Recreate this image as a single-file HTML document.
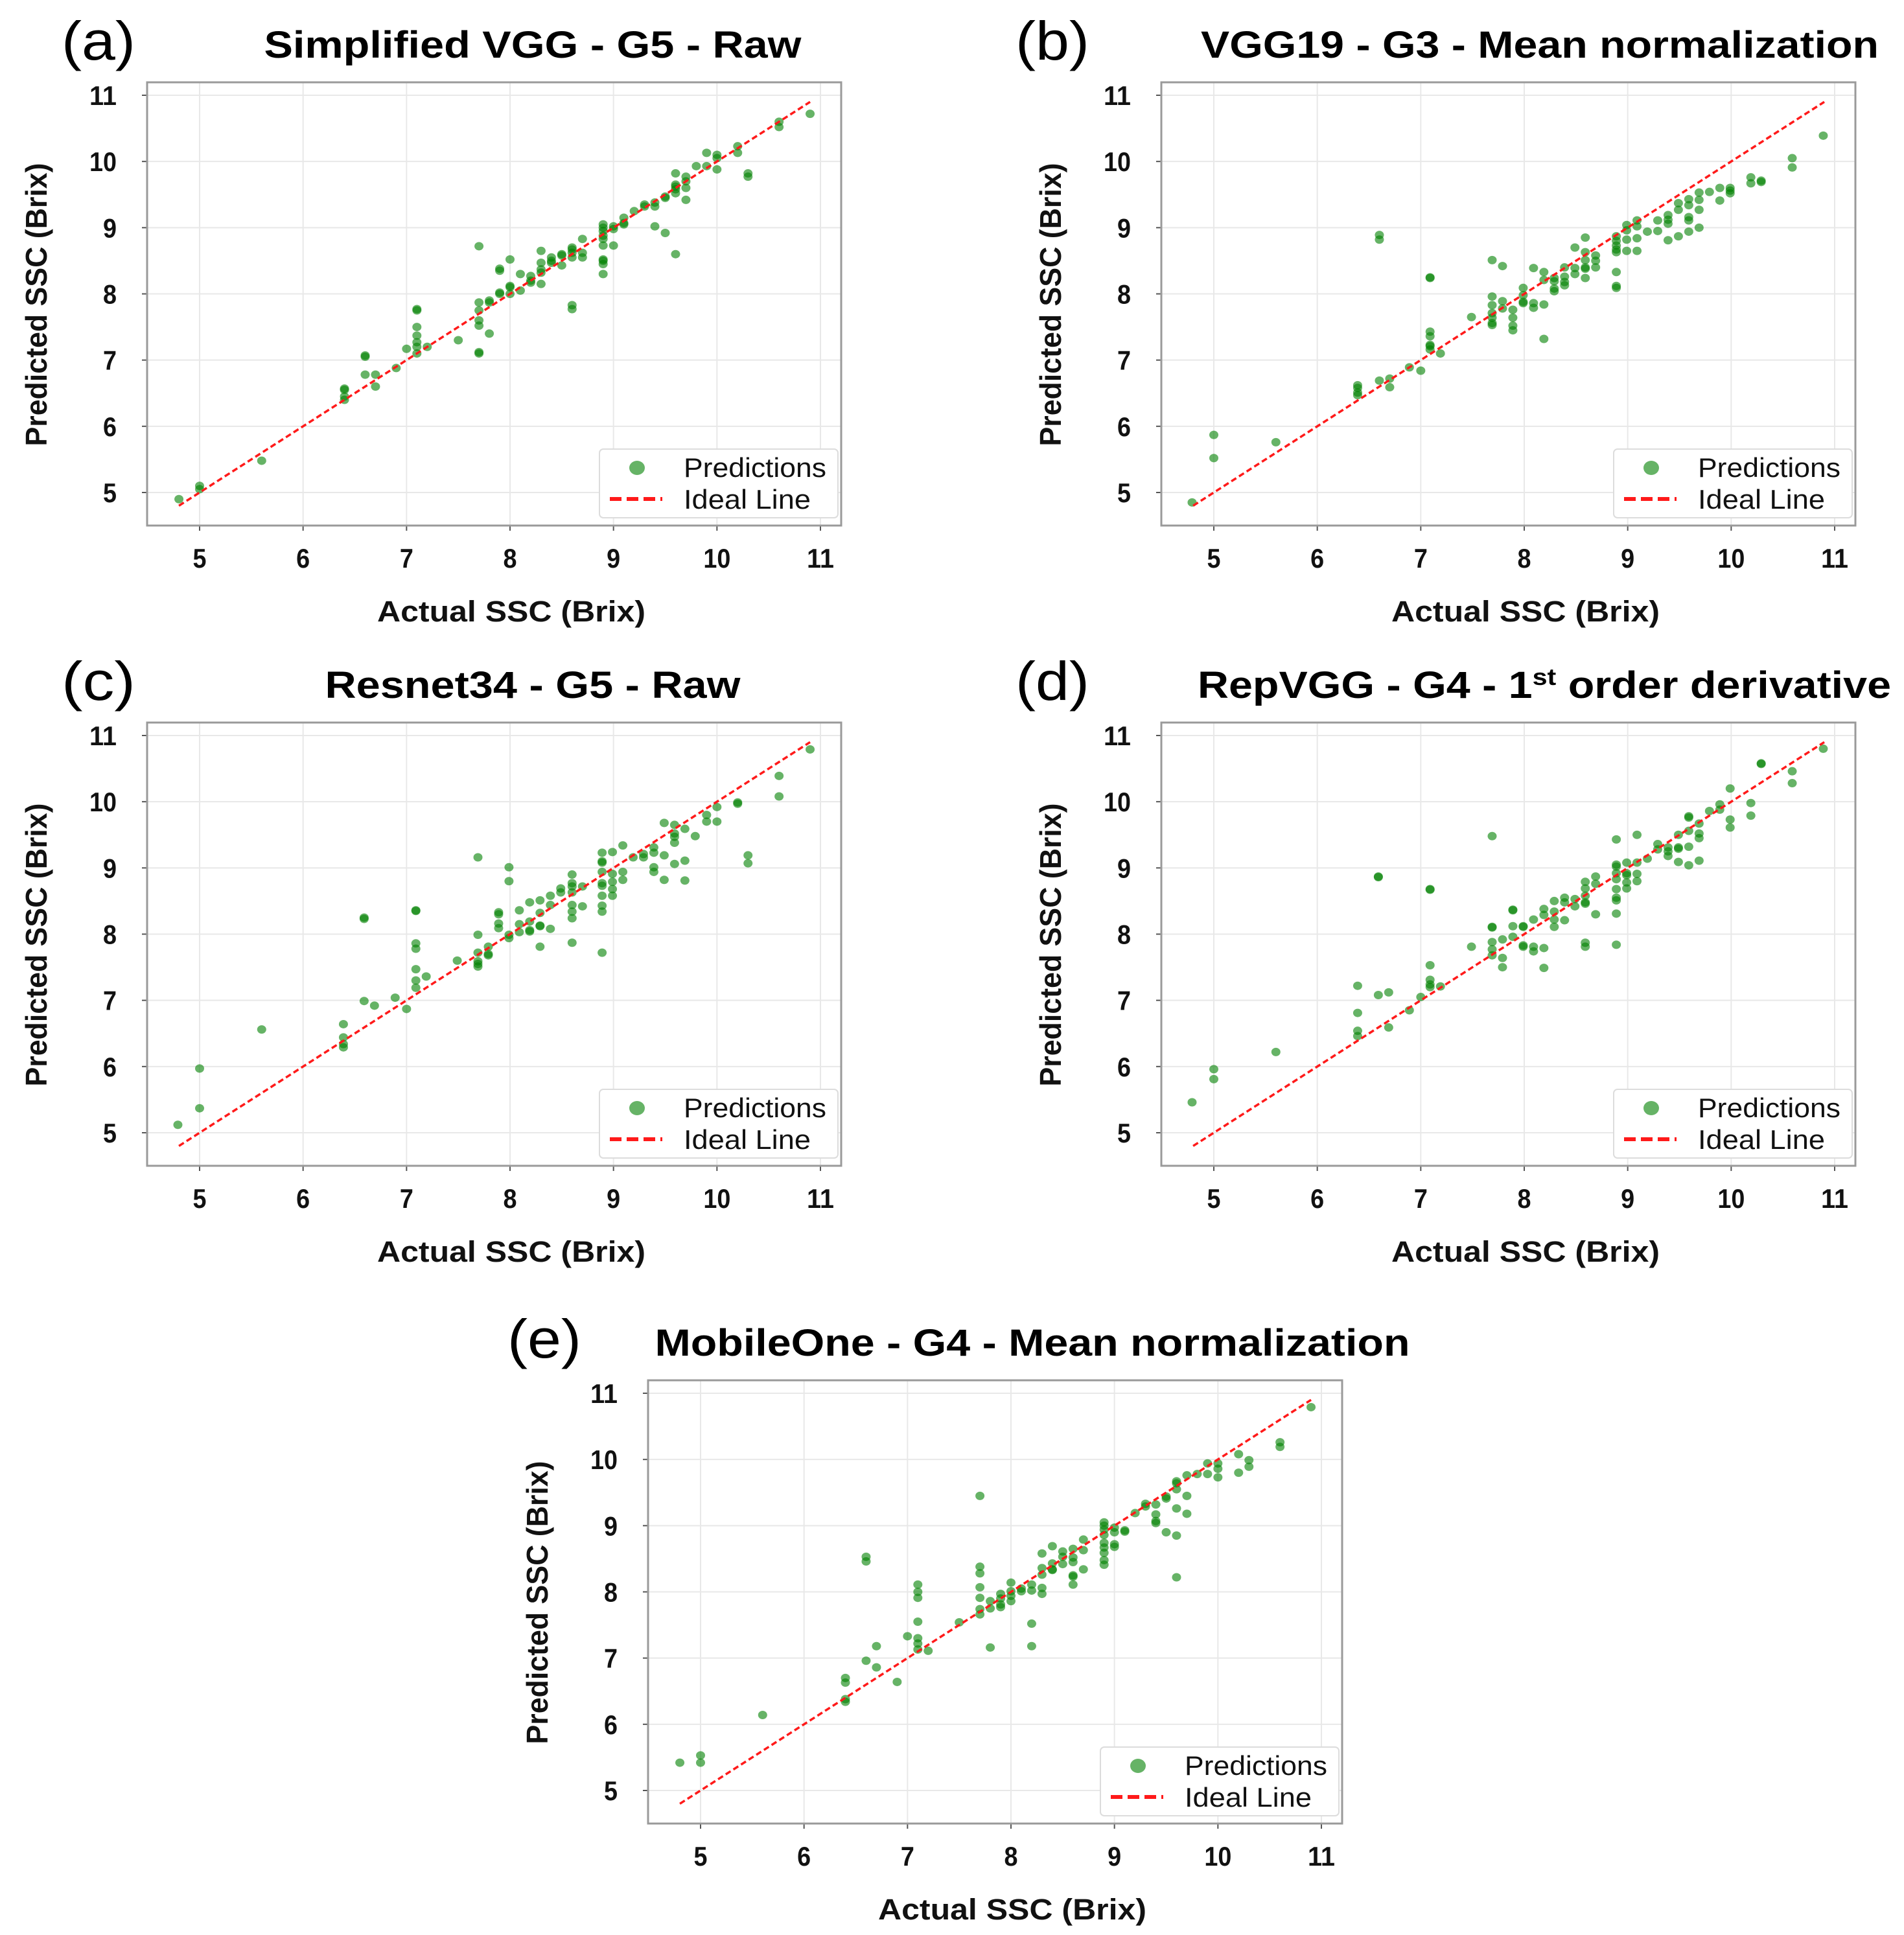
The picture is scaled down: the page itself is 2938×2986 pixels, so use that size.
<!DOCTYPE html>
<html><head><meta charset="utf-8"><style>
html,body{margin:0;padding:0;background:#fff;}
svg{display:block;}
</style></head><body>
<svg id="fig" xmlns="http://www.w3.org/2000/svg" width="2938" height="2986" viewBox="0 0 2938 2986" font-family="Liberation Sans, Arial, sans-serif"></svg>
<script>
// ---- data (actual SSC, predicted SSC) ----
const tickValues = [5, 6, 7, 8, 9, 10, 11];
const tickLabels = ["5", "6", "7", "8", "9", "10", "11"];
const idealRange = [4.8, 10.9];

const aX = [4.8,5,5,5.6,6.4,6.4,6.4,6.4,6.6,6.6,6.6,6.7,6.7,6.9,7.0,7.1,7.1,7.1,7.1,7.1,7.1,7.1,7.2,7.5,7.7,7.7,7.7,7.7,7.7,7.7,7.7,7.8,7.8,7.8,7.9,7.9,7.9,7.9,8.0,8.0,8.0,8.0,8.1,8.1,8.2,8.2,8.2,8.3,8.3,8.3,8.3,8.3,8.4,8.4,8.4,8.5,8.5,8.5,8.6,8.6,8.6,8.6,8.6,8.6,8.7,8.7,8.7,8.9,8.9,8.9,8.9,8.9,8.9,8.9,8.9,8.9,8.9,9.0,9.0,9.0,9.1,9.1,9.1,9.2,9.3,9.3,9.4,9.4,9.4,9.5,9.5,9.5,9.6,9.6,9.6,9.6,9.6,9.6,9.7,9.7,9.7,9.7,9.8,9.9,9.9,10.0,10.0,10.0,10.2,10.2,10.3,10.3,10.6,10.6,10.9];
const aY = [4.9,5.05,5.1,5.48,6.4,6.45,6.55,6.57,7.05,7.07,6.78,6.78,6.6,6.88,7.17,7.1,7.2,7.27,7.37,7.5,7.75,7.77,7.2,7.3,7.1,7.12,7.52,7.6,7.75,7.87,8.72,7.4,7.87,7.9,8.0,8.02,8.35,8.38,8.0,8.1,8.12,8.52,8.05,8.3,8.17,8.2,8.27,8.15,8.32,8.37,8.47,8.65,8.47,8.5,8.55,8.43,8.58,8.6,7.77,7.83,8.55,8.62,8.67,8.7,8.55,8.62,8.83,8.3,8.45,8.5,8.52,8.73,8.83,8.88,8.95,9.0,9.05,8.73,8.98,9.02,9.05,9.07,9.15,9.25,9.32,9.35,9.02,9.32,9.38,8.92,9.45,9.47,8.6,9.52,9.58,9.62,9.65,9.82,9.42,9.6,9.7,9.77,9.93,9.93,10.13,9.88,10.05,10.1,10.13,10.23,9.77,9.82,10.52,10.6,10.72];

const bX = [4.79,5,5,5.6,6.39,6.39,6.39,6.39,6.6,6.6,6.6,6.7,6.7,6.89,7.0,7.09,7.09,7.09,7.09,7.09,7.09,7.09,7.19,7.49,7.69,7.69,7.69,7.69,7.69,7.69,7.69,7.79,7.79,7.79,7.89,7.89,7.89,7.89,7.99,7.99,7.99,7.99,8.09,8.09,8.09,8.19,8.19,8.19,8.19,8.29,8.29,8.29,8.29,8.39,8.39,8.39,8.39,8.49,8.49,8.49,8.59,8.59,8.59,8.59,8.59,8.59,8.69,8.69,8.69,8.89,8.89,8.89,8.89,8.89,8.89,8.89,8.89,8.99,8.99,8.99,8.99,9.09,9.09,9.09,9.09,9.19,9.29,9.29,9.39,9.39,9.39,9.39,9.49,9.49,9.49,9.59,9.59,9.59,9.59,9.59,9.69,9.69,9.69,9.69,9.79,9.89,9.89,9.99,9.99,9.99,10.19,10.19,10.29,10.29,10.59,10.59,10.89];
const bY = [4.85,5.87,5.52,5.76,6.62,6.58,6.51,6.47,8.89,8.82,6.69,6.72,6.59,6.89,6.84,8.24,8.25,7.43,7.36,7.23,7.21,7.16,7.1,7.65,8.51,7.96,7.83,7.71,7.64,7.56,7.53,8.42,7.89,7.78,7.76,7.64,7.52,7.45,8.09,7.98,7.88,7.86,8.39,7.86,7.79,8.33,8.21,7.84,7.32,8.24,8.19,8.08,8.04,8.4,8.26,8.18,8.13,8.7,8.39,8.3,8.85,8.63,8.51,8.4,8.38,8.24,8.58,8.5,8.4,8.87,8.8,8.73,8.67,8.63,8.33,8.12,8.09,9.04,8.96,8.82,8.65,9.11,9.02,8.84,8.65,8.94,9.11,8.95,9.19,9.12,9.06,8.81,9.37,9.27,8.87,9.43,9.34,9.16,9.11,8.94,9.53,9.42,9.27,9.0,9.54,9.6,9.41,9.6,9.56,9.52,9.76,9.67,9.71,9.69,10.05,9.91,10.39];

const cX = [4.79,5,5,5.6,6.39,6.39,6.39,6.39,6.59,6.59,6.59,6.69,6.89,7.0,7.09,7.09,7.09,7.09,7.09,7.09,7.09,7.19,7.49,7.69,7.69,7.69,7.69,7.69,7.69,7.79,7.79,7.79,7.89,7.89,7.89,7.89,7.99,7.99,7.99,7.99,8.09,8.09,8.09,8.19,8.19,8.19,8.19,8.29,8.29,8.29,8.29,8.29,8.39,8.39,8.39,8.49,8.49,8.6,8.6,8.6,8.6,8.6,8.6,8.6,8.6,8.7,8.7,8.89,8.89,8.89,8.89,8.89,8.89,8.89,8.89,8.89,8.89,8.99,8.99,8.99,8.99,8.99,9.09,9.09,9.09,9.19,9.29,9.29,9.39,9.39,9.39,9.39,9.49,9.49,9.49,9.59,9.59,9.59,9.59,9.59,9.69,9.69,9.69,9.79,9.9,9.9,10.0,10.0,10.2,10.2,10.3,10.3,10.6,10.6,10.9];
const cY = [5.12,5.97,5.37,6.56,6.64,6.44,6.34,6.29,8.25,8.23,6.99,6.92,7.04,6.87,8.36,8.35,7.86,7.78,7.47,7.3,7.19,7.36,7.6,9.16,7.99,7.72,7.59,7.55,7.51,7.81,7.7,7.68,8.33,8.3,8.16,8.09,9.01,8.8,7.99,7.94,8.36,8.15,8.03,8.48,8.19,8.06,8.04,8.51,8.32,8.13,8.12,7.81,8.58,8.44,8.08,8.69,8.63,8.9,8.77,8.72,8.63,8.44,8.34,8.24,7.87,8.72,8.42,9.23,9.1,9.08,8.94,8.77,8.73,8.58,8.43,8.34,7.72,9.24,8.91,8.79,8.68,8.58,9.34,8.94,8.82,9.16,9.21,9.16,9.31,9.23,9.01,8.94,9.68,9.19,8.82,9.65,9.52,9.47,9.38,9.06,9.59,9.11,8.81,9.48,9.8,9.7,9.92,9.7,9.99,9.97,9.19,9.07,10.39,10.08,10.79];

const dX = [4.79,5,5,5.6,6.39,6.39,6.39,6.39,6.59,6.59,6.59,6.69,6.69,6.89,7.0,7.09,7.09,7.09,7.09,7.09,7.09,7.19,7.49,7.69,7.69,7.69,7.69,7.69,7.69,7.79,7.79,7.79,7.89,7.89,7.89,7.89,7.99,7.99,7.99,7.99,8.09,8.09,8.09,8.19,8.19,8.19,8.19,8.29,8.29,8.29,8.29,8.39,8.39,8.39,8.49,8.49,8.59,8.59,8.59,8.59,8.59,8.59,8.59,8.69,8.69,8.69,8.89,8.89,8.89,8.89,8.89,8.89,8.89,8.89,8.89,8.89,8.99,8.99,8.99,8.99,8.99,9.09,9.09,9.09,9.09,9.19,9.29,9.29,9.39,9.39,9.39,9.49,9.49,9.49,9.49,9.59,9.59,9.59,9.59,9.59,9.69,9.69,9.69,9.69,9.79,9.89,9.89,9.99,9.99,9.99,10.19,10.19,10.29,10.29,10.59,10.59,10.89];
const dY = [5.46,5.96,5.81,6.22,7.22,6.81,6.54,6.46,8.87,8.86,7.08,7.12,6.59,6.85,7.05,8.68,8.67,7.53,7.31,7.24,7.2,7.21,7.81,9.48,8.11,8.1,7.88,7.77,7.68,7.92,7.64,7.5,8.37,8.36,8.12,7.96,8.12,8.11,7.83,7.81,8.22,7.81,7.74,8.38,8.29,7.79,7.49,8.5,8.34,8.22,8.11,8.55,8.48,8.21,8.53,8.42,8.79,8.69,8.58,8.48,8.46,7.87,7.81,8.87,8.76,8.3,9.43,9.05,9.02,8.92,8.83,8.68,8.55,8.51,8.31,7.84,9.08,8.92,8.89,8.78,8.69,9.5,9.08,8.91,8.8,9.14,9.36,9.28,9.31,9.25,9.18,9.5,9.31,9.29,9.09,9.78,9.76,9.56,9.32,9.04,9.67,9.52,9.45,9.11,9.86,9.96,9.88,10.2,9.73,9.61,9.98,9.79,10.58,10.57,10.46,10.28,10.8];

const eX = [4.8,5,5,5.6,6.4,6.4,6.4,6.4,6.6,6.6,6.6,6.7,6.7,6.9,7.0,7.1,7.1,7.1,7.1,7.1,7.1,7.1,7.2,7.5,7.7,7.7,7.7,7.7,7.7,7.7,7.7,7.8,7.8,7.8,7.9,7.9,7.9,7.9,8.0,8.0,8.0,8.0,8.1,8.1,8.2,8.2,8.2,8.2,8.3,8.3,8.3,8.3,8.3,8.4,8.4,8.4,8.4,8.5,8.5,8.5,8.6,8.6,8.6,8.6,8.6,8.6,8.7,8.7,8.7,8.9,8.9,8.9,8.9,8.9,8.9,8.9,8.9,8.9,9.0,9.0,9.0,9.0,9.1,9.1,9.2,9.3,9.3,9.4,9.4,9.4,9.4,9.5,9.5,9.5,9.6,9.6,9.6,9.6,9.6,9.6,9.7,9.7,9.7,9.8,9.9,9.9,10.0,10.0,10.0,10.2,10.2,10.3,10.3,10.6,10.6,10.9];
const eY = [5.42,5.53,5.42,6.14,6.7,6.63,6.38,6.34,8.53,8.46,6.96,7.18,6.86,6.64,7.33,8.11,8.0,7.91,7.55,7.3,7.22,7.13,7.11,7.54,9.45,8.38,8.28,8.07,7.91,7.74,7.66,7.86,7.75,7.16,7.97,7.9,7.81,7.77,8.14,8.01,7.94,7.86,8.05,8.01,8.11,8.02,7.52,7.18,8.58,8.36,8.26,8.06,7.97,8.69,8.43,8.34,8.33,8.61,8.53,8.42,8.65,8.52,8.45,8.25,8.23,8.11,8.79,8.63,8.34,9.05,9.0,8.94,8.86,8.74,8.67,8.59,8.48,8.41,8.97,8.9,8.72,8.68,8.93,8.91,9.19,9.33,9.29,9.32,9.17,9.07,9.04,9.44,9.41,8.9,9.67,9.64,9.55,9.26,8.85,8.22,9.76,9.45,9.18,9.78,9.94,9.78,9.94,9.86,9.73,10.08,9.8,9.99,9.89,10.26,10.19,10.79];

const panelX = [aX, bX, cX, dX, eX];
const panelY = [aY, bY, cY, dY, eY];
const panelTitles = ["Simplified VGG - G5 - Raw", "VGG19 - G3 - Mean normalization", "Resnet34 - G5 - Raw", "RepVGG - G4 - 1|st| order derivative", "MobileOne - G4 - Mean normalization"];
const panelLetters = ["(a)", "(b)", "(c)", "(d)", "(e)"];

// ---- layout ----
const NS = "http://www.w3.org/2000/svg";
const svg = document.getElementById("fig");
const layout = [
  {dx:0, dy:0, tcx:822, tw:829, lx:95},
  {dx:1565, dy:0, tcx:2376, tw:1046, lx:1567},
  {dx:0, dy:988, tcx:822, tw:641, lx:95},
  {dx:1565, dy:988, tcx:2383, tw:1070, lx:1567},
  {dx:773, dy:2003, tcx:1593, tw:1165, lx:783}
];
function mk(tag, attrs, parent){
  const el = document.createElementNS(NS, tag);
  for (const k in attrs) el.setAttribute(k, attrs[k]);
  (parent||svg).appendChild(el);
  return el;
}
layout.forEach((L, p) => {
  const g = mk("g", {});
  
  
  const left = 227 + L.dx, right = 1298 + L.dx, top = 127 + L.dy, bottom = 811 + L.dy;
  const sx = v => 308 + L.dx + (v - 5) * (1266 - 308) / 6;
  const sy = v => 760 + L.dy - (v - 5) * (760 - 147) / 6;
  mk("rect", {x:left, y:top, width:right-left, height:bottom-top, fill:"#fff"}, g);
  tickValues.forEach((t, i) => {
    const gx = mk("line", {x1:sx(t), x2:sx(t), y1:top, y2:bottom, stroke:"#e8e8e8", "stroke-width":2}, g);
    
    
    const gy = mk("line", {x1:left, x2:right, y1:sy(t), y2:sy(t), stroke:"#e8e8e8", "stroke-width":2}, g);
    
    
    mk("line", {x1:sx(t), x2:sx(t), y1:bottom, y2:bottom+8, stroke:"#555", "stroke-width":2}, g);
    mk("line", {x1:left-8, x2:left, y1:sy(t), y2:sy(t), stroke:"#555", "stroke-width":2}, g);
    const xl = mk("text", {x:sx(t), y:bottom+65, "font-size":42, "font-weight":"bold", "text-anchor":"middle", fill:"#111", textLength: tickLabels[i].length*21, lengthAdjust:"spacingAndGlyphs"}, g);
    xl.textContent = tickLabels[i];
    
    
    const yl = mk("text", {x:left-47, y:sy(t)+15, "font-size":42, "font-weight":"bold", "text-anchor":"end", fill:"#111", textLength: tickLabels[i].length*21, lengthAdjust:"spacingAndGlyphs"}, g);
    yl.textContent = tickLabels[i];
    
    
  });
  const xs = panelX[p], ys = panelY[p];
  for (let i = 0; i < xs.length; i++) {
    const c = mk("ellipse", {cx:sx(xs[i]), cy:sy(ys[i]), rx:7, ry:6.5, fill:"rgba(0,128,0,0.6)"}, g);
    
    
  }
  const il = mk("line", {x1:sx(idealRange[0]), y1:sy(idealRange[0]), x2:sx(idealRange[1]), y2:sy(idealRange[1]), stroke:"#ff1a1a", "stroke-width":3.5, "stroke-dasharray":"9,5"}, g);
  
  
  const fr = mk("rect", {x:left, y:top, width:right-left, height:bottom-top, fill:"none", stroke:"#9a9a9a", "stroke-width":3}, g);
  
  
  const lg = mk("g", {}, g);
  
  
  mk("rect", {x:left+698, y:top+566, width:368, height:106, rx:6, fill:"#fff", stroke:"#dcdcdc", "stroke-width":2}, lg);
  const lm = mk("ellipse", {cx:left+756, cy:top+595, rx:12, ry:11, fill:"rgba(0,128,0,0.6)"}, lg);
  
  
  const lt1 = mk("text", {x:left+828, y:top+609, "font-size":42, fill:"#111", textLength:220, lengthAdjust:"spacingAndGlyphs"}, lg);
  lt1.textContent = "Predictions";
  
  
  const ll = mk("line", {x1:left+714, x2:left+795, y1:top+643, y2:top+643, stroke:"#ff1a1a", "stroke-width":6, "stroke-dasharray":"18,8"}, lg);
  
  
  const lt2 = mk("text", {x:left+828, y:top+658, "font-size":42, fill:"#111", textLength:196, lengthAdjust:"spacingAndGlyphs"}, lg);
  lt2.textContent = "Ideal Line";
  
  
  const xt = mk("text", {x:789 + L.dx, y:959 + L.dy, "font-size":45, "font-weight":"bold", "text-anchor":"middle", fill:"#111", textLength:414, lengthAdjust:"spacingAndGlyphs"}, g);
  xt.textContent = "Actual SSC (Brix)";
  
  
  const yt = mk("text", {x:0, y:0, "font-size":46, "font-weight":"bold", "text-anchor":"middle", fill:"#111", textLength:437, lengthAdjust:"spacingAndGlyphs", transform:"translate(" + (72 + L.dx) + "," + (470 + L.dy) + ") rotate(-90)"}, g);
  yt.textContent = "Predicted SSC (Brix)";
  
  
  const tt = mk("text", {x:L.tcx, y:89 + L.dy, "font-size":58, "font-weight":"bold", "text-anchor":"middle", fill:"#000", textLength:L.tw, lengthAdjust:"spacingAndGlyphs"}, g);
  const parts = panelTitles[p].split("|");
  if (parts.length === 3) {
    const t1 = mk("tspan", {}, tt); t1.textContent = parts[0];
    const t2 = mk("tspan", {dy:-20, "font-size":36}, tt); t2.textContent = parts[1];
    const t3 = mk("tspan", {dy:20}, tt); t3.textContent = parts[2];
  } else {
    tt.textContent = parts[0];
  }
  
  
  const lb = mk("text", {x:L.lx, y:92 + L.dy, "font-size":84, fill:"#000", textLength:114, lengthAdjust:"spacingAndGlyphs"}, g);
  lb.textContent = panelLetters[p];
  
  
});
</script>
</body></html>
